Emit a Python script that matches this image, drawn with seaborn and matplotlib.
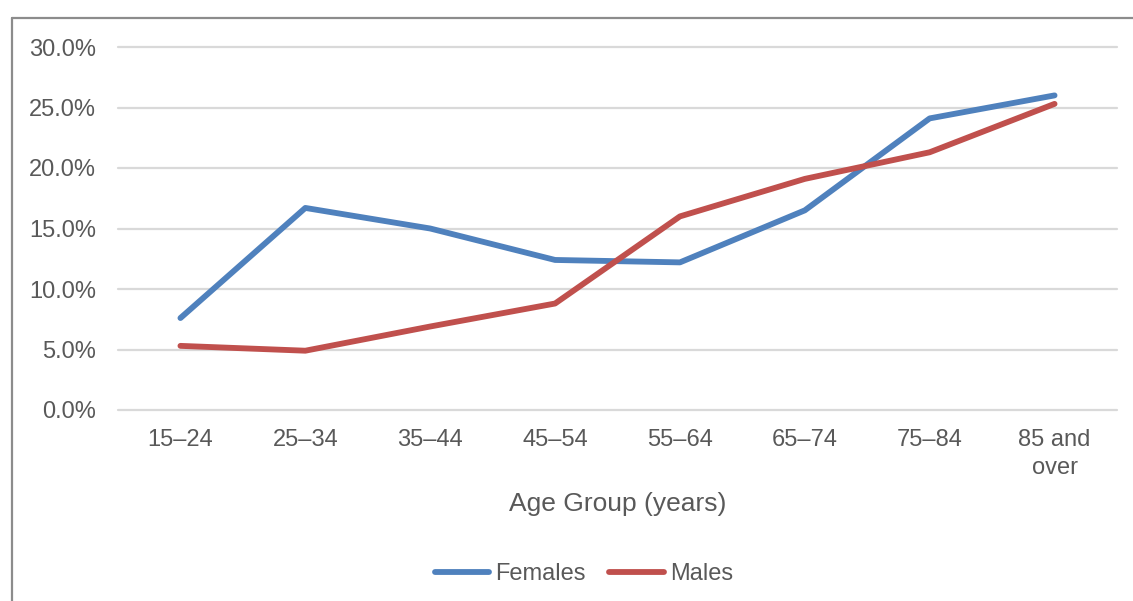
import matplotlib
matplotlib.use("Agg")
import matplotlib.pyplot as plt
from matplotlib.lines import Line2D
import seaborn as sns
import pandas as pd
from matplotlib.ticker import FuncFormatter

# Share of each age group (%)
age_groups = ["15–24", "25–34", "35–44", "45–54", "55–64", "65–74", "75–84", "85 and\nover"]
females = [7.6, 16.7, 15.0, 12.4, 12.2, 16.5, 24.1, 26.0]
males = [5.3, 4.9, 6.9, 8.8, 16.0, 19.1, 21.3, 25.3]
y_ticks = [0, 5, 10, 15, 20, 25, 30]

df = pd.DataFrame({
    "Age Group": age_groups * 2,
    "Share": females + males,
    "Sex": ["Females"] * len(age_groups) + ["Males"] * len(age_groups),
})

sns.set_theme(style="white")
plt.rcParams["font.family"] = ["Liberation Sans", "DejaVu Sans"]

text_color = "#595959"
grid_color = "#D9D9D9"
palette = {"Females": "#4F81BD", "Males": "#C0504D"}

W, H = 1133, 601
fig = plt.figure(figsize=(W / 100, H / 100), dpi=100)
ax = fig.add_axes([118 / W, 1 - 410 / H, (1117 - 118) / W, (410 - 47) / H])

sns.lineplot(data=df, x="Age Group", y="Share", hue="Sex", palette=palette,
             sort=False, linewidth=4.2, ax=ax, legend=False)
for line in ax.lines:
    line.set_solid_capstyle("round")
    line.set_solid_joinstyle("round")
    line.set_zorder(3)

ax.set_xlim(-0.5, len(age_groups) - 0.5)
ax.set_ylim(0, 30)
ax.set_yticks(y_ticks)
ax.yaxis.set_major_formatter(FuncFormatter(lambda v, _: f"{v:.1f}%"))
ax.set_xticks(range(len(age_groups)))
ax.set_xticklabels(age_groups, linespacing=1.3)

for y in y_ticks:
    ax.axhline(y, color=grid_color, linewidth=1.6, zorder=1, clip_on=False)

for s in ax.spines.values():
    s.set_visible(False)

ax.tick_params(axis="both", length=0, labelsize=17, colors=text_color)
ax.tick_params(axis="y", pad=16)
ax.tick_params(axis="x", pad=14)
ax.set_ylabel("")
ax.set_xlabel("Age Group (years)", fontsize=19, color=text_color, labelpad=10)

handles = [Line2D([], [], color=palette[k], linewidth=4.2, solid_capstyle="round") for k in palette]
fig.legend(handles, list(palette.keys()), loc="center", bbox_to_anchor=(584 / W, 1 - 574 / H),
           ncol=2, frameon=False, fontsize=17, handlelength=2.3, handletextpad=0.25,
           columnspacing=1.0, labelcolor=text_color)

# Outer chart frame: left and top edges of the chart area
frame_x = 11.5 / W
frame_y = 1 - 17.5 / H
frame_kw = dict(transform=fig.transFigure, color="#8C8C8C", linewidth=1.6)
fig.lines.append(Line2D([frame_x, frame_x], [-0.1, frame_y], **frame_kw))
fig.lines.append(Line2D([frame_x, 1.1], [frame_y, frame_y], **frame_kw))

fig.savefig("out.png", dpi=100)
